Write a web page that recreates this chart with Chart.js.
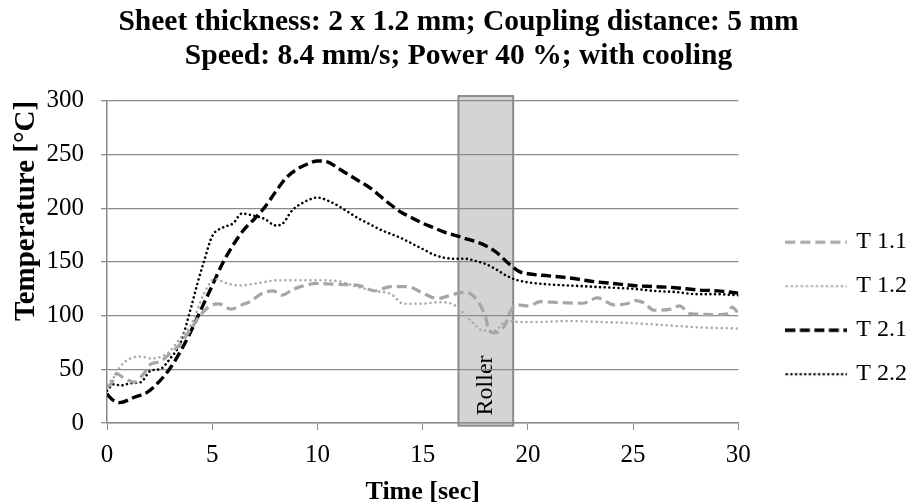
<!DOCTYPE html>
<html><head><meta charset="utf-8">
<script src="https://cdn.jsdelivr.net/npm/chart.js@4.4.0/dist/chart.umd.min.js"></script>
<style>html,body{margin:0;padding:0;background:#fff;}#wrap{width:917px;height:504px;}</style>
</head><body><div id="wrap"><canvas id="c" width="917" height="504"></canvas></div>
<script>
const titleLines = ['Sheet thickness: 2 x 1.2 mm; Coupling distance: 5 mm', 'Speed: 8.4 mm/s; Power 40 %; with cooling'];
const xTitle = 'Time [sec]';
const yTitle = 'Temperature [°C]';
const seriesNames = ['T 1.1', 'T 1.2', 'T 2.1', 'T 2.2'];
const xRange = [0, 30, 5];
const yRange = [0, 300, 50];
const rollerSpan = [16.7, 19.3];
const rollerLabel = 'Roller';

const t11 = [0,0.25,0.45,0.8,1.3,1.75,2.1,2.5,2.9,3.5,4.0,4.5,5.0,5.3,5.9,6.4,6.8,7.4,7.9,8.3,8.8,9.2,10.0,11.0,12.0,12.7,13.5,14.3,14.9,15.7,16.5,17.0,17.3,17.7,18.0,18.15,18.45,18.9,19.2,19.5,20.0,20.6,21.1,22.6,23.3,24.1,24.7,25.1,25.5,26.0,26.8,27.2,27.7,29.0,29.5,29.7,30.0];
const v11 = [33,38,46,42,38,46,55,57,63,74,88,102,110,111,106,110,113,121,123,119,124,127,130,129,128,123,127,127,122,116,120,122,120,111,98,86,84,91,105,110,109,113,112.5,111.5,116.5,110,111,114,112,105,106,109,102,101,102,108,102];

const t12 = [0,0.3,0.65,1.1,1.6,2.1,2.6,3.0,3.4,4.0,4.6,5.1,5.7,6.3,7.1,8.2,9.2,10.0,11.0,11.7,12.7,13.5,14.1,14.9,15.8,16.4,16.95,17.35,17.9,18.4,19.0,19.6,20.3,22.0,23.5,25.0,26.6,28.2,30.0];
const v12 = [36,42,53,60,62,60,62,67,77,92,120,134,130,128,130,133,133,133,132,128,123,120,111,111,112.5,111,102,94,86,86,95,94,94,95,94,93,91,89,88];

const t21 = [0,0.3,0.6,1.3,1.9,2.5,3.0,3.5,4.0,4.5,5.0,5.5,6.0,6.5,7.0,7.5,8.0,8.5,9.0,9.5,10.0,10.5,11.0,11.5,12.0,12.5,13.0,13.5,14.0,14.5,15.0,15.5,16.0,16.5,17.0,17.5,18.0,18.5,19.0,19.3,19.6,20.0,21.0,22.0,23.0,24.0,25.0,26.0,27.0,28.0,29.0,30.0];
const v21 = [27,21,19,24,28.5,39,51,67,86,107,128,149,166,180,190,201,215,228,236,241,244,243,237,231,225,219,211,203,196,191,186,182,178,175,172,169,165,159,150,145,141,139,137,135,132,130,128,127,126,124,123,121];

const t22 = [0,0.3,0.7,1.1,1.6,2.1,2.5,3.0,3.5,4.0,4.3,4.6,5.0,5.5,6.0,6.4,7.0,7.5,8.0,8.3,8.8,9.5,10.0,10.5,11.0,11.5,12.0,12.5,13.0,13.5,14.0,14.5,15.0,15.5,16.0,16.5,17.0,17.5,18.0,18.5,19.0,19.5,20.0,21.0,22.0,23.0,24.0,25.0,26.0,27.0,28.0,29.0,30.0];
const v22 = [30,36,35,37,38,49,50,60,75,108,130,150,174,182,186,195,193,190,184,185,198,207,210,207,202,196,190,185,180,176,172,167,162,157,154,153,153,151,148,143,137,133,131,129,128,127,126,125,123,122,120,120,119];

const FONT = "'Liberation Serif', 'Times New Roman', serif";
const pts = (t, v) => t.map((x, i) => ({x, y: v[i]}));

const styles = [
  {color: '#a6a6a6', dash: [10, 5], width: 3.2, cap: 'butt'},
  {color: '#ababab', dash: [0.01, 5], width: 2.6, cap: 'round'},
  {color: '#000000', dash: [10, 4.5], width: 3.4, cap: 'butt'},
  {color: '#000000', dash: [0.01, 4.6], width: 2.6, cap: 'round'}
];

function sample(st) {
  const c = document.createElement('canvas');
  c.width = 62; c.height = 8;
  const g = c.getContext('2d');
  g.strokeStyle = st.color; g.lineWidth = st.width; g.lineCap = st.cap;
  g.setLineDash(st.dash);
  g.beginPath(); g.moveTo(st.cap === 'round' ? 1.5 : 0, 4); g.lineTo(62, 4); g.stroke();
  return c;
}
const samples = styles.map(sample);

const rollerPlugin = {
  id: 'roller',
  beforeDraw(chart) {
    const {ctx, scales: {x, y}} = chart;
    const x0 = x.getPixelForValue(rollerSpan[0]);
    const x1 = x.getPixelForValue(rollerSpan[1]);
    const yT = y.getPixelForValue(304.5);
    const yB = y.getPixelForValue(-2.5);
    ctx.save();
    ctx.fillStyle = '#d4d4d4';
    ctx.fillRect(x0, yT, x1 - x0, yB - yT);
    ctx.strokeStyle = '#8c8c8c';
    ctx.lineWidth = 2;
    ctx.strokeRect(x0, yT, x1 - x0, yB - yT);
    ctx.translate((x0 + x1) / 2, y.getPixelForValue(35));
    ctx.rotate(-Math.PI / 2);
    ctx.font = '24px ' + FONT;
    ctx.fillStyle = '#000';
    ctx.textAlign = 'center';
    ctx.textBaseline = 'middle';
    ctx.fillText(rollerLabel, 0, 0);
    ctx.restore();
  }
};

const mk = (i, t, v) => ({
  label: seriesNames[i], data: pts(t, v), borderColor: styles[i].color, backgroundColor: styles[i].color,
  borderDash: styles[i].dash, borderWidth: styles[i].width, borderCapStyle: styles[i].cap, pointRadius: 0,
  tension: 0.4, cubicInterpolationMode: 'monotone', fill: false
});

new Chart(document.getElementById('c'), {
  type: 'line',
  data: {
    datasets: [mk(0, t11, v11), mk(1, t12, v12), mk(2, t21, v21), mk(3, t22, v22)]
  },
  options: {
    responsive: false,
    animation: false,
    devicePixelRatio: 1,
    layout: {padding: 0},
    plugins: {
      title: {display: true, text: titleLines, color: '#000', font: {family: FONT, size: 29.5, weight: 'bold', lineHeight: 1.15}, padding: {top: 5, bottom: 28}},
      legend: {
        position: 'right',
        title: {display: true, text: ' ', font: {size: 2}, padding: {top: 0, bottom: 110}},
        labels: {
          usePointStyle: true, pointStyleWidth: 56, boxHeight: 24, padding: 20, color: '#000',
          font: {family: FONT, size: 24},
          generateLabels(chart) {
            const items = Chart.defaults.plugins.legend.labels.generateLabels(chart);
            items.forEach(it => { it.pointStyle = samples[it.datasetIndex]; });
            return items;
          }
        }
      },
      tooltip: {enabled: false}
    },
    scales: {
      x: {
        type: 'linear', min: xRange[0], max: xRange[1],
        ticks: {stepSize: xRange[2], color: '#000', font: {family: FONT, size: 25}, padding: 10, maxRotation: 0},
        grid: {display: true, drawOnChartArea: false, drawTicks: true, tickLength: 7, color: '#8c8c8c'},
        border: {display: true, color: '#8c8c8c', width: 1.5},
        title: {display: true, text: xTitle, color: '#000', font: {family: FONT, size: 26, weight: 'bold'}, padding: {top: 0, bottom: -4}},
        afterFit(s) { s.height = 81; }
      },
      y: {
        type: 'linear', min: yRange[0], max: yRange[1],
        ticks: {stepSize: yRange[2], color: '#000', font: {family: FONT, size: 25}, padding: 17},
        grid: {display: true, drawTicks: true, tickLength: 6, color: '#8a8a8a', lineWidth: 1.3},
        border: {display: true, color: '#8a8a8a', width: 1.5},
        title: {display: true, text: yTitle, align: 'end', color: '#000', font: {family: FONT, size: 29, weight: 'bold'}, padding: {top: 9, bottom: 0}},
        afterFit(s) { s.width = 107; }
      },
      yR: {
        position: 'right', display: true, min: 0, max: 1,
        ticks: {display: false}, grid: {display: false}, border: {display: false},
        afterFit(s) { s.width = 30; }
      }
    }
  },
  plugins: [rollerPlugin]
});
</script></body></html>
